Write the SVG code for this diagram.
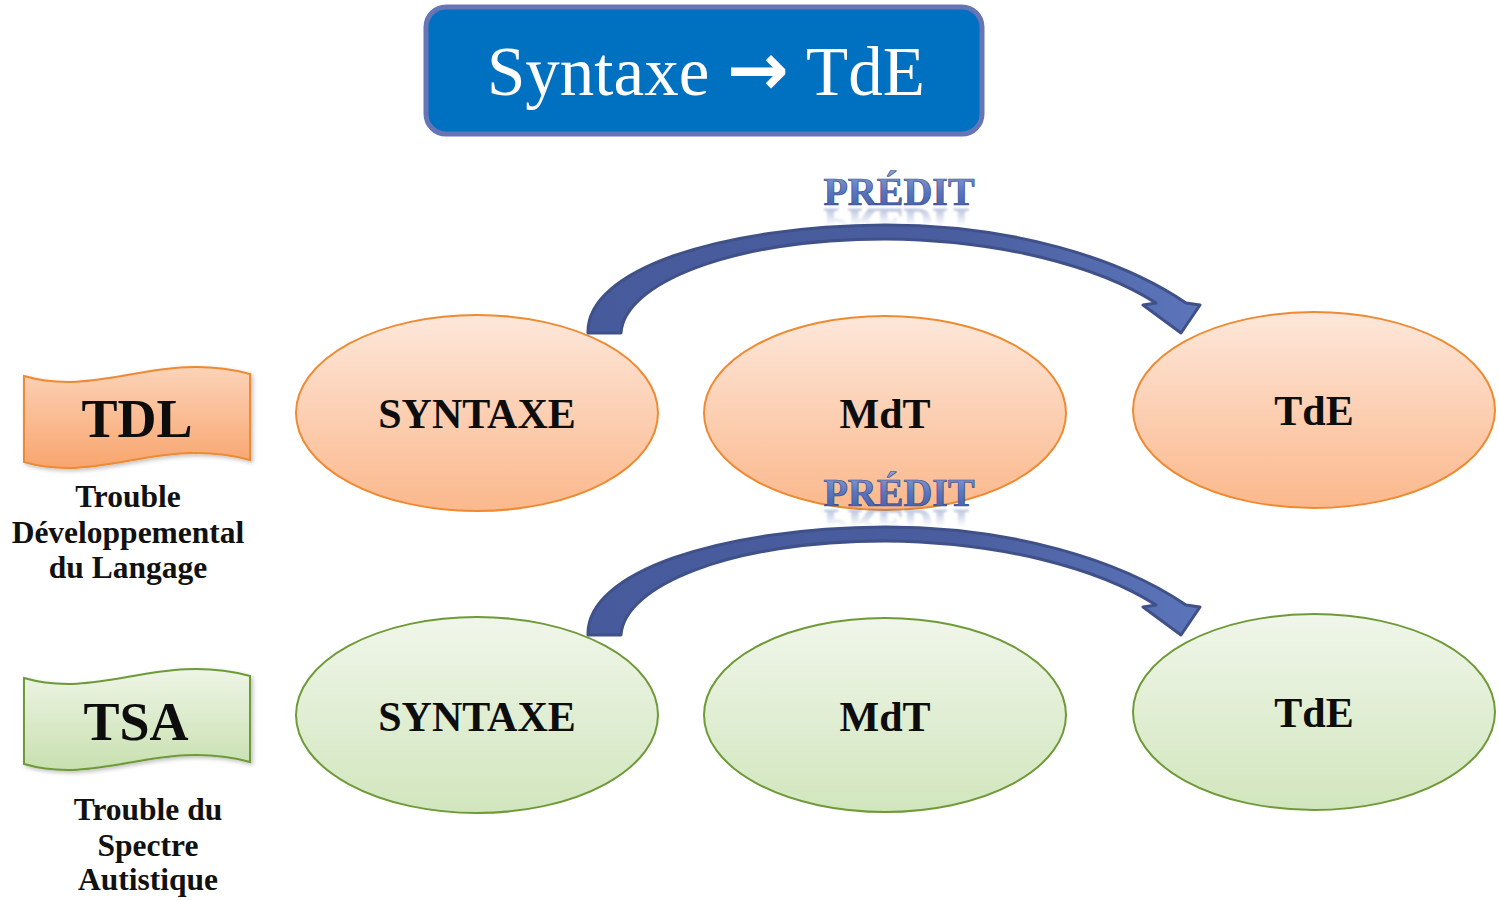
<svg xmlns="http://www.w3.org/2000/svg" xmlns:xlink="http://www.w3.org/1999/xlink" width="1499" height="900" viewBox="0 0 1499 900">
  <defs>
    <linearGradient id="gOrange" x1="0" y1="0" x2="0" y2="1">
      <stop offset="0" stop-color="#FDE7DA"/>
      <stop offset="1" stop-color="#FBB88C"/>
    </linearGradient>
    <linearGradient id="gGreen" x1="0" y1="0" x2="0" y2="1">
      <stop offset="0" stop-color="#F0F6EA"/>
      <stop offset="1" stop-color="#D1E6BD"/>
    </linearGradient>
    <linearGradient id="gBannerO" x1="0" y1="0" x2="0" y2="1">
      <stop offset="0" stop-color="#FCD3B8"/>
      <stop offset="1" stop-color="#F8A56E"/>
    </linearGradient>
    <linearGradient id="gBannerG" x1="0" y1="0" x2="0" y2="1">
      <stop offset="0" stop-color="#EEF5E6"/>
      <stop offset="1" stop-color="#C8E0B0"/>
    </linearGradient>
    <linearGradient id="gArrow" x1="588" y1="0" x2="1200" y2="0" gradientUnits="userSpaceOnUse">
      <stop offset="0" stop-color="#475B9C"/>
      <stop offset="0.6" stop-color="#4A5E9F"/>
      <stop offset="1" stop-color="#5C75BA"/>
    </linearGradient>
    <linearGradient id="gWord" x1="0" y1="0" x2="0" y2="1">
      <stop offset="0" stop-color="#93A6DC"/>
      <stop offset="0.5" stop-color="#5C76BE"/>
      <stop offset="1" stop-color="#3E59A3"/>
    </linearGradient>
    <linearGradient id="gFade" x1="0" y1="0" x2="0" y2="1">
      <stop offset="0" stop-color="#fff" stop-opacity="0.45"/>
      <stop offset="1" stop-color="#fff" stop-opacity="0"/>
    </linearGradient>
    <mask id="mFade1" maskUnits="userSpaceOnUse" x="800" y="205" width="200" height="30">
      <rect x="800" y="206" width="200" height="20" fill="url(#gFade)"/>
    </mask>
    <mask id="mFade2" maskUnits="userSpaceOnUse" x="800" y="506" width="200" height="30">
      <rect x="800" y="507" width="200" height="20" fill="url(#gFade)"/>
    </mask>
    <filter id="soft" x="-10%" y="-10%" width="130%" height="130%">
      <feGaussianBlur in="SourceAlpha" stdDeviation="2"/>
      <feOffset dx="2" dy="2"/>
      <feComponentTransfer><feFuncA type="linear" slope="0.25"/></feComponentTransfer>
      <feMerge><feMergeNode/><feMergeNode in="SourceGraphic"/></feMerge>
    </filter>
    <filter id="haze" x="-5%" y="-20%" width="110%" height="140%">
      <feGaussianBlur stdDeviation="0.8"/>
    </filter>
    <!-- curved "prédit" arrow, drawn for the upper row -->
    <path id="curveArrow" d="M 588 333 C 586 270 720 226 885 225 C 1012 225 1120 258 1186 303 L 1200 305 L 1181 333 L 1143 305 L 1156 303 C 1098 266 1000 240 885 239 C 730 239 624 284 621 333 Z"/>
  </defs>
  <style>
    .ell-o { fill: url(#gOrange); stroke: #EE8A31; stroke-width: 2; }
    .ell-g { fill: url(#gGreen); stroke: #6E9A38; stroke-width: 2; }
    .node-txt { font-family: "Liberation Serif", "DejaVu Serif", serif; font-weight: bold; font-size: 42px; fill: #0D0D0D; text-anchor: middle; }
    .banner-txt { font-family: "Liberation Serif", "DejaVu Serif", serif; font-weight: bold; font-size: 54px; fill: #0D0D0D; text-anchor: middle; }
    .cap-txt { font-family: "Liberation Serif", "DejaVu Serif", serif; font-weight: bold; font-size: 31.5px; fill: #111; text-anchor: middle; }
    .word { font-family: "Liberation Serif", "DejaVu Serif", serif; font-weight: bold; font-size: 40px; fill: url(#gWord); stroke: #34498A; stroke-width: 0.7; text-anchor: middle; }
    .arrow { fill: url(#gArrow); stroke: #3F5188; stroke-width: 3; stroke-linejoin: round; }
  </style>

  <!-- title -->
  <g id="title">
    <rect x="426" y="7" width="556" height="127" rx="20" ry="20" fill="#0070C0" stroke="#6675B6" stroke-width="5"/>
    <text font-family="'Liberation Serif', 'DejaVu Serif', serif" font-size="69" fill="#FFFFFF" y="95"><tspan x="487">Syntaxe</tspan><tspan x="727" font-family="'DejaVu Sans', sans-serif" font-weight="bold" font-size="74">→</tspan><tspan x="806">TdE</tspan></text>
  </g>

  <!-- group banners -->
  <g id="tdl">
    <path d="M 24 376 C 100 398 160 350 250 374 L 250 460 C 160 436 100 484 24 462 Z" fill="url(#gBannerO)" stroke="#EE8A31" stroke-width="2" filter="url(#soft)"/>
    <text class="banner-txt" x="137" y="437">TDL</text>
    <text class="cap-txt"><tspan x="128" y="507">Trouble</tspan><tspan x="128" y="543">Développemental</tspan><tspan x="128" y="578">du Langage</tspan></text>
  </g>
  <g id="tsa">
    <path d="M 24 678 C 100 700 160 652 250 676 L 250 762 C 160 738 100 786 24 764 Z" fill="url(#gBannerG)" stroke="#6E9A38" stroke-width="2" filter="url(#soft)"/>
    <text class="banner-txt" x="136" y="740">TSA</text>
    <text class="cap-txt"><tspan x="148" y="820">Trouble du</tspan><tspan x="148" y="856">Spectre</tspan><tspan x="148" y="890">Autistique</tspan></text>
  </g>

  <!-- TDL row -->
  <g id="tdl-syntaxe">
    <ellipse class="ell-o" cx="477" cy="413" rx="181" ry="98"/>
    <text class="node-txt" x="477" y="428">SYNTAXE</text>
  </g>
  <g id="tdl-mdt">
    <ellipse class="ell-o" cx="885" cy="413" rx="181" ry="97"/>
    <text class="node-txt" x="885" y="428">MdT</text>
  </g>
  <g id="tdl-tde">
    <ellipse class="ell-o" cx="1314" cy="410" rx="181" ry="98"/>
    <text class="node-txt" x="1314" y="425">TdE</text>
  </g>

  <!-- TSA row -->
  <g id="tsa-syntaxe">
    <ellipse class="ell-g" cx="477" cy="715" rx="181" ry="98"/>
    <text class="node-txt" x="477" y="731">SYNTAXE</text>
  </g>
  <g id="tsa-mdt">
    <ellipse class="ell-g" cx="885" cy="715" rx="181" ry="97"/>
    <text class="node-txt" x="885" y="731">MdT</text>
  </g>
  <g id="tsa-tde">
    <ellipse class="ell-g" cx="1314" cy="712" rx="181" ry="98"/>
    <text class="node-txt" x="1314" y="727">TdE</text>
  </g>

  <!-- connectors: SYNTAXE predicts TdE -->
  <g id="connectors">
    <use xlink:href="#curveArrow" class="arrow"/>
    <use xlink:href="#curveArrow" class="arrow" transform="translate(0,302)"/>
    <text id="predit1" class="word" x="899" y="205">PRÉDIT</text>
    <g mask="url(#mFade1)" filter="url(#haze)"><use xlink:href="#predit1" transform="translate(0,414) scale(1,-1)"/></g>
    <text id="predit2" class="word" x="899" y="506">PRÉDIT</text>
    <g mask="url(#mFade2)" filter="url(#haze)"><use xlink:href="#predit2" transform="translate(0,1016) scale(1,-1)"/></g>
  </g>
</svg>
